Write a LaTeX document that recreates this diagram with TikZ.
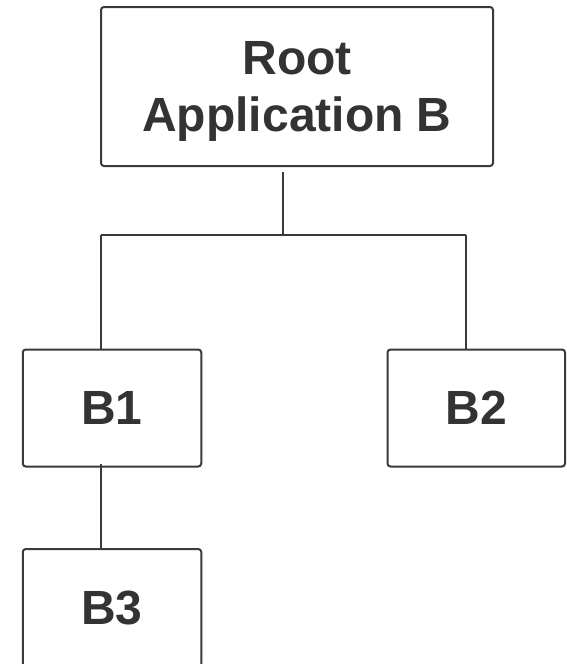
\documentclass[tikz,border=0pt]{standalone}
\usepackage{fontspec}
\setmainfont{Liberation Sans}
\definecolor{ink}{HTML}{333333}
\definecolor{edge}{HTML}{3A3A3A}
\begin{document}
\begin{tikzpicture}[x=1pt,y=-1pt,
  box/.style={draw=edge,line width=2pt,rounded corners=3pt,fill=white,
    inner sep=0pt,font=\bfseries\fontsize{48}{56.7}\selectfont,text=ink,align=center},
  link/.style={draw=edge,line width=2pt}]
\useasboundingbox (0,0) rectangle (566,664);
\clip (0,0) rectangle (566,664);
\node[box,minimum width=392pt,minimum height=159pt,text depth=0pt] (root) at (297,86.5) {Root\\Application B};
\node[box,minimum width=178.5pt,minimum height=117pt] (b1) at (112,408) {B1};
\node[box,minimum width=177.5pt,minimum height=117pt] (b2) at (476.25,408) {B2};
\node[box,minimum width=178.5pt,minimum height=118pt] (b3) at (112,608) {B3};
\coordinate (j) at (283.3,235);
\coordinate (jl) at (101,235);
\coordinate (jr) at (465.5,235);
\draw[link] (root.south -| j) ++(0,5) -- (j);
\draw[link] (jl) -- (jr);
\draw[link] (jl) -- (jl |- b1.north);
\draw[link] (jr) -- (jr |- b2.north);
\draw[link] (b1.south -| jl) ++(0,-4) -- (jl |- b3.north);
\end{tikzpicture}
\end{document}
